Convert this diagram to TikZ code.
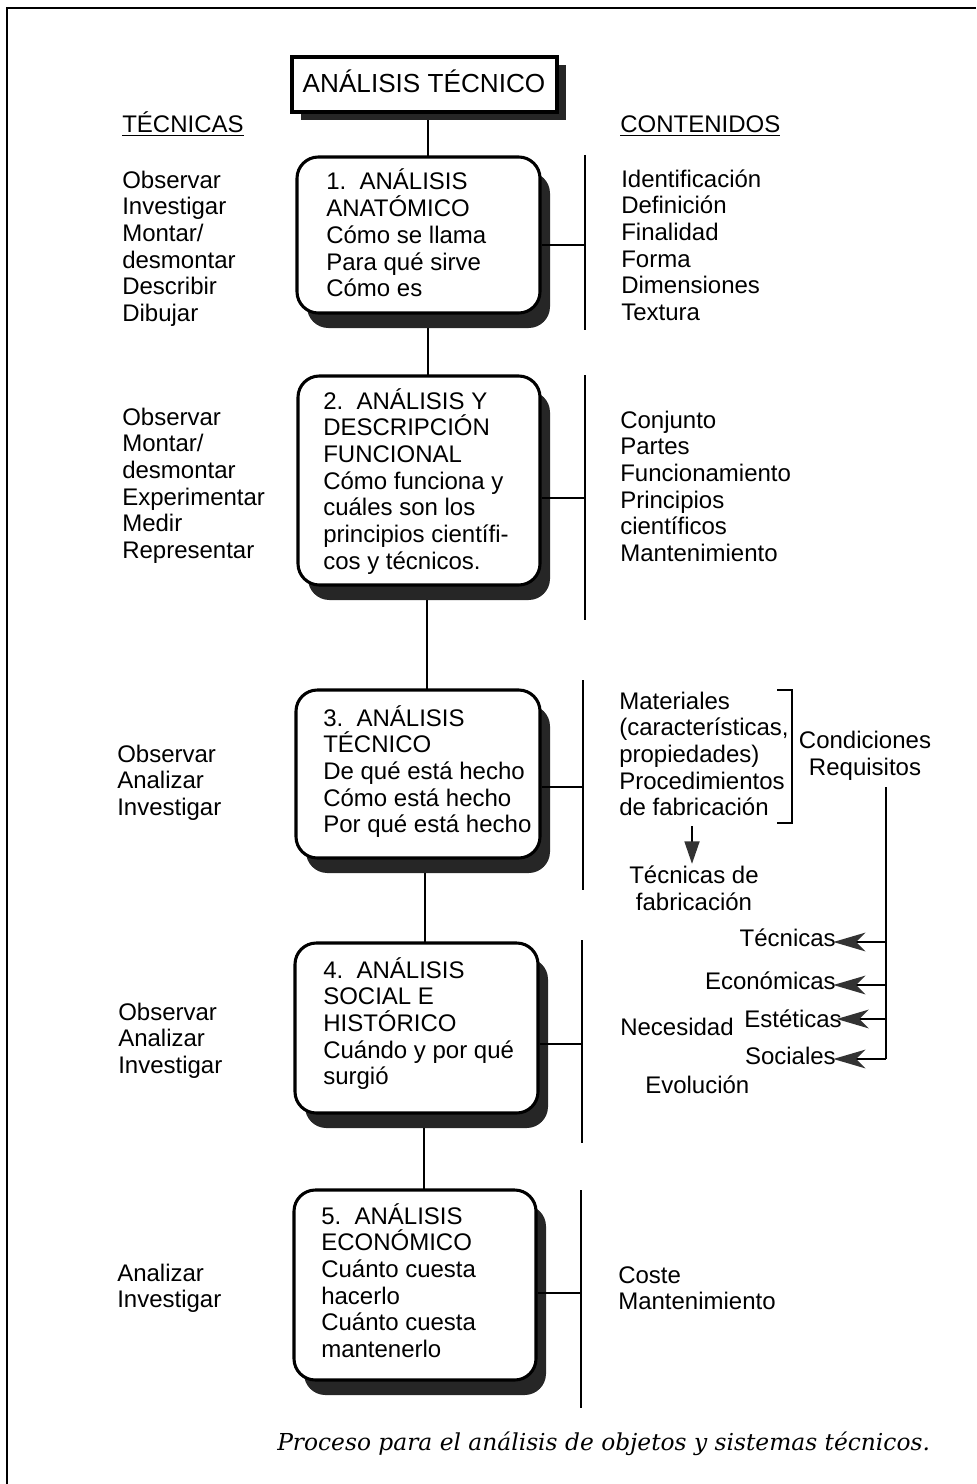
\documentclass[tikz,border=0pt]{standalone}
\usepackage{fontspec}
\setmainfont{Liberation Sans}
\newfontfamily\capfont{DejaVu Serif}
\usetikzlibrary{arrows.meta,calc,fit}
\definecolor{shadowc}{HTML}{262626}
\definecolor{tipc}{HTML}{333333}
\newcommand\shbox[5]{%
  \fill[shd] (#2+10,#3+15) rectangle (#4+10,#5+15);
  \node[bx, fit={(#2,#3) (#4,#5)}] (#1) {};}
\newcommand\tlines[4]{%
  \foreach \t [count=\i from 0] in {#4} \node[txt] (#1\i) at (#2, #3+26.67*\i) {\t};}
\begin{document}
\begin{tikzpicture}[x=0.75pt,y=-0.75pt,
  txt/.style={font=\fontsize{18}{20}\selectfont, inner sep=0, anchor=base west},
  ln/.style={line width=2.1pt},
  bx/.style={draw, line width=2.3pt, rounded corners=16pt, fill=white, inner sep=0},
  shd/.style={fill=shadowc, rounded corners=16pt},
  arr/.style={line width=2.1pt, -{Stealth[length=24pt,width=14pt,inset=7pt,color=tipc]}},
  darr/.style={line width=2.1pt, -{Triangle[length=17pt,width=11pt,color=tipc]}}]
\useasboundingbox (0,0) rectangle (976,1484);
% frame
\draw[line width=2.2pt] (7,1484) -- (7,8) -- (976,8);
% centre spine
\coordinate (s0) at (428,112);
\coordinate (s1) at (428,160);
\coordinate (s2) at (428,310);
\coordinate (s3) at (428,378);
\coordinate (s4) at (427,580);
\coordinate (s5) at (427,693);
\coordinate (s6) at (425,855);
\coordinate (s7) at (425,946);
\coordinate (s8) at (424,1110);
\coordinate (s9) at (424,1193);
\draw[ln] (s0) -- (s1);
\draw[ln] (s2) -- (s3);
\draw[ln] (s4) -- (s5);
\draw[ln] (s6) -- (s7);
\draw[ln] (s8) -- (s9);
% title box
\fill[shadowc] (292+9,57+8) rectangle (557+9,112+8);
\node[draw, line width=2.3pt, fill=white, inner sep=0, fit={(292,57) (557,112)}] (title) {};
\node[font=\fontsize{19.6}{24}\selectfont, inner sep=0, anchor=base] (titletxt) at (424,93) {ANÁLISIS TÉCNICO};
% boxes
\shbox{b1}{297}{157}{540}{313}
\shbox{b2}{298}{376}{540}{585}
\shbox{b3}{296}{690}{540}{858}
\shbox{b4}{295}{943}{538}{1113}
\shbox{b5}{294}{1190}{536}{1380}
% right rails
\coordinate (r1t) at (585,155); \coordinate (r1b) at (585,330); \coordinate (r1c) at (585,245);
\coordinate (r2t) at (585,375); \coordinate (r2b) at (585,620); \coordinate (r2c) at (585,498);
\coordinate (r3t) at (583,680); \coordinate (r3b) at (583,890); \coordinate (r3c) at (583,787);
\coordinate (r4t) at (582,940); \coordinate (r4b) at (582,1143); \coordinate (r4c) at (582,1044);
\coordinate (r5t) at (581,1190); \coordinate (r5b) at (581,1408); \coordinate (r5c) at (581,1293);
\foreach \k in {1,...,5} {
  \draw[ln] (r\k t) -- (r\k b);
  \draw[ln] (r\k c) -- (r\k c -| b\k.east);
}
% headers
\node[txt] (htec) at (122,133) {\underline{TÉCNICAS}};
\node[txt] (hcon) at (620,133) {\underline{CONTENIDOS}};
% left column
\tlines{la}{122}{188}{Observar,Investigar,Montar/,desmontar,Describir,Dibujar}
\tlines{lb}{122}{425}{Observar,Montar/,desmontar,Experimentar,Medir,Representar}
\tlines{lc}{117}{762}{Observar,Analizar,Investigar}
\tlines{ld}{118}{1020}{Observar,Analizar,Investigar}
\tlines{le}{117}{1281}{Analizar,Investigar}
% box texts
\tlines{ta}{326}{190}{1.~~ANÁLISIS,ANATÓMICO,Cómo se llama,Para qué sirve,Cómo es}
\tlines{tb}{323}{409}{2.~~ANÁLISIS Y,DESCRIPCIÓN,FUNCIONAL,Cómo funciona y,cuáles son los,principios científi-,cos y técnicos.}
\tlines{tc}{323}{726}{3.~~ANÁLISIS,TÉCNICO,De qué está hecho,Cómo está hecho,Por qué está hecho}
\tlines{td}{323}{978}{4.~~ANÁLISIS,SOCIAL E,HISTÓRICO,Cuándo y por qué,surgió}
\tlines{te}{321}{1224}{5.~~ANÁLISIS,ECONÓMICO,Cuánto cuesta,hacerlo,Cuánto cuesta,mantenerlo}
% right column
\tlines{ra}{621}{187}{Identificación,Definición,Finalidad,Forma,Dimensiones,Textura}
\tlines{rb}{620}{428}{Conjunto,Partes,Funcionamiento,Principios,científicos,Mantenimiento}
\tlines{rc}{619}{709}{Materiales,{(características,},propiedades),Procedimientos,de fabricación}
\tlines{re}{618}{1283}{Coste,Mantenimiento}
% bracket and conditions
\coordinate (bk1) at (777,690); \coordinate (bk2) at (792,690);
\coordinate (bk3) at (792,823); \coordinate (bk4) at (777,823);
\draw[ln] (bk1) -- (bk2) -- (bk3) -- (bk4);
\node[txt, anchor=base] (cond) at (865,748) {Condiciones};
\node[txt, anchor=base] (req) at (865,775) {Requisitos};
\coordinate (da1) at (692,826); \coordinate (da2) at (692,864);
\draw[darr] (da1) -- (da2);
\node[txt, anchor=base] (tf1) at (694,883) {Técnicas de};
\node[txt, anchor=base] (tf2) at (694,910) {fabricación};
% requirement branches
\coordinate (v0) at (886,787);
\coordinate (v1) at (886,942); \coordinate (v2) at (886,985);
\coordinate (v3) at (886,1019); \coordinate (v4) at (886,1059);
\node[txt, anchor=base east] (q1) at (836,946) {Técnicas};
\node[txt, anchor=base east] (q2) at (836,989) {Económicas};
\node[txt, anchor=base east] (q3) at (842,1027) {Estéticas};
\node[txt, anchor=base east] (q4) at (836,1064) {Sociales};
\draw[ln] (v0) -- (v4);
\draw[arr] (v1) -- ([xshift=-2pt]v1 -| q1.east);
\draw[arr] (v2) -- ([xshift=-2pt]v2 -| q2.east);
\draw[arr] (v3) -- ([xshift=-4pt]v3 -| q3.east);
\draw[arr] (v4) -- ([xshift=-2pt]v4 -| q4.east);
\node[txt] (nec) at (620,1035) {Necesidad};
\node[txt] (evo) at (645,1093) {Evolución};
% caption
\node[inner sep=0, anchor=base west, font=\capfont\itshape\fontsize{17.5}{20}\selectfont] (cap) at (277,1450) {Proceso para el análisis de objetos y sistemas técnicos.};
\end{tikzpicture}
\end{document}
